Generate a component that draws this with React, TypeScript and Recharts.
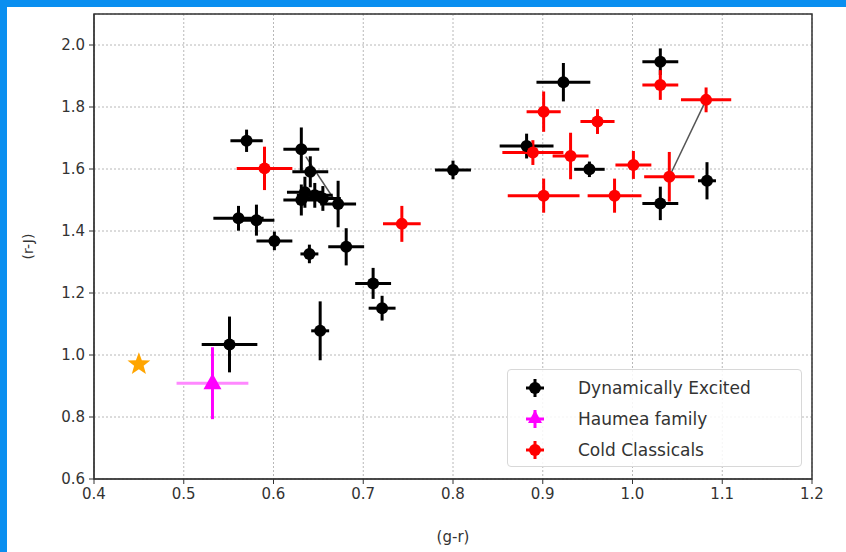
import {
  ErrorBar,
  Legend,
  ReferenceArea,
  ReferenceLine,
  Scatter,
  ScatterChart,
  CartesianGrid,
  XAxis,
  YAxis,
} from "recharts";

// Dynamically excited objects
const deX = [0.570, 0.631, 0.641, 0.635, 0.631, 0.646, 0.655, 0.672, 0.561, 0.581, 0.601, 0.640, 0.681, 0.711, 0.721, 0.652, 0.551, 0.800, 0.923, 1.031, 0.882, 0.952, 1.031, 1.083];
const deY = [1.691, 1.664, 1.591, 1.525, 1.500, 1.515, 1.505, 1.487, 1.441, 1.435, 1.368, 1.326, 1.349, 1.231, 1.151, 1.078, 1.034, 1.597, 1.880, 1.946, 1.674, 1.599, 1.489, 1.562];
const deXErr = [0.018, 0.02, 0.02, 0.02, 0.02, 0.02, 0.02, 0.02, 0.028, 0.02, 0.02, 0.01, 0.02, 0.02, 0.015, 0.01, 0.031, 0.02, 0.03, 0.02, 0.03, 0.017, 0.02, 0.01];
const deYErr = [0.036, 0.07, 0.05, 0.05, 0.05, 0.04, 0.04, 0.075, 0.04, 0.05, 0.03, 0.03, 0.06, 0.05, 0.04, 0.095, 0.09, 0.03, 0.062, 0.043, 0.04, 0.025, 0.054, 0.06];

// Cold classicals
const ccX = [0.590, 0.743, 0.901, 0.961, 1.031, 1.082, 0.889, 0.931, 1.001, 1.041, 0.901, 0.980];
const ccY = [1.602, 1.423, 1.785, 1.753, 1.871, 1.823, 1.653, 1.642, 1.613, 1.575, 1.514, 1.514];
const ccXErr = [0.031, 0.021, 0.019, 0.019, 0.02, 0.028, 0.034, 0.02, 0.02, 0.028, 0.04, 0.03];
const ccYErr = [0.07, 0.058, 0.065, 0.04, 0.048, 0.04, 0.04, 0.075, 0.045, 0.08, 0.055, 0.055];

// Haumea family
const hfX = [0.532];
const hfY = [0.909];
const hfXErr = [0.04];
const hfYErr = [0.116];

// lone reference object (star)
const starX = [0.45];
const starY = [0.97];

// pairs joined by a thin line
const links = [
  [{ x: 1.041, y: 1.575 }, { x: 1.082, y: 1.823 }],
  [{ x: 0.636, y: 1.64 }, { x: 0.668, y: 1.5 }],
];

const xTicks = [0.4, 0.5, 0.6, 0.7, 0.8, 0.9, 1.0, 1.1, 1.2];
const yTicks = [0.6, 0.8, 1.0, 1.2, 1.4, 1.6, 1.8, 2.0];

const rows = (xs: number[], ys: number[], ex?: number[], ey?: number[]) =>
  xs.map((x, i) => ({ x, y: ys[i], ex: ex ? ex[i] : 0, ey: ey ? ey[i] : 0 }));

const deData = rows(deX, deY, deXErr, deYErr);
const ccData = rows(ccX, ccY, ccXErr, ccYErr);
const hfData = rows(hfX, hfY, hfXErr, hfYErr);
const starData = rows(starX, starY);

const FONT = "'DejaVu Sans', sans-serif";
const tickStyle = { fontSize: 15, fill: "#333", fontFamily: FONT };

const dot = (color: string) => (p: any) => <circle cx={p.cx} cy={p.cy} r={6} fill={color} />;

const tri = (p: any) => (
  <polygon
    points={`${p.cx},${p.cy - 10} ${p.cx + 9},${p.cy + 6} ${p.cx - 9},${p.cy + 6}`}
    fill="#ff00ff"
  />
);

const star = (p: any) => {
  const pts: string[] = [];
  for (let i = 0; i < 10; i++) {
    const r = i % 2 === 0 ? 12 : 5;
    const a = -Math.PI / 2 + (i * Math.PI) / 5;
    pts.push(`${p.cx + r * Math.cos(a)},${p.cy + r * Math.sin(a)}`);
  }
  return <polygon points={pts.join(" ")} fill="#ffa500" />;
};

function LegendIcon({ color, kind }: { color: string; kind: "dot" | "tri" }) {
  return (
    <svg width={30} height={24}>
      <line x1={6} y1={12} x2={24} y2={12} stroke={color} strokeWidth={3} />
      <line x1={15} y1={3} x2={15} y2={21} stroke={color} strokeWidth={3} />
      {kind === "dot" ? (
        <circle cx={15} cy={12} r={6} fill={color} />
      ) : (
        <polygon points="15,3 22,16 8,16" fill={color} />
      )}
    </svg>
  );
}

const legendItems: { label: string; color: string; kind: "dot" | "tri" }[] = [
  { label: "Dynamically Excited", color: "#000", kind: "dot" },
  { label: "Haumea family", color: "#ff00ff", kind: "tri" },
  { label: "Cold Classicals", color: "#ff0000", kind: "dot" },
];

function LegendBox() {
  return (
    <div
      style={{
        width: 295,
        height: 98,
        border: "1px solid #d8d8d8",
        borderRadius: 4,
        background: "rgba(255,255,255,0.85)",
        boxSizing: "border-box",
        padding: "2px 0 0 12px",
        fontFamily: FONT,
        fontSize: 17,
        color: "#333",
      }}
    >
      {legendItems.map((it) => (
        <div key={it.label} style={{ display: "flex", alignItems: "center", height: 31 }}>
          <LegendIcon color={it.color} kind={it.kind} />
          <span style={{ marginLeft: 28 }}>{it.label}</span>
        </div>
      ))}
    </div>
  );
}

export default function App() {
  return (
    <div style={{ position: "absolute", left: 0, top: 0, width: 846, height: 552, background: "#fff", overflow: "hidden" }}>
      <div style={{ position: "absolute", left: 0, top: 0, width: 846, height: 7, background: "#0a8ff0" }} />
      <div style={{ position: "absolute", left: 0, top: 0, width: 7, height: 552, background: "#0a8ff0" }} />
      <ScatterChart width={846} height={552} margin={{ top: 14, right: 34, bottom: 0, left: 34 }}>
        <CartesianGrid stroke="#b8b8b8" strokeDasharray="2 2" />
        <XAxis
          type="number"
          dataKey="x"
          domain={[0.4, 1.2]}
          ticks={xTicks}
          allowDataOverflow
          tickFormatter={(v: number) => v.toFixed(1)}
          tick={tickStyle}
          tickSize={5}
          tickMargin={4}
          height={73}
          stroke="#333"
          label={{ value: "(g-r)", position: "insideBottom", offset: 10, style: { fontSize: 15, fill: "#333", fontFamily: FONT } }}
        />
        <YAxis
          type="number"
          dataKey="y"
          domain={[0.6, 2.1]}
          ticks={yTicks}
          allowDataOverflow
          tickFormatter={(v: number) => v.toFixed(1)}
          tick={tickStyle}
          tickSize={5}
          tickMargin={4}
          width={60}
          stroke="#333"
          label={{ value: "(r-J)", angle: -90, position: "insideLeft", offset: -6, style: { fontSize: 14, fill: "#333", fontFamily: FONT, textAnchor: "middle" } }}
        />
        {links.map((seg, i) => (
          <ReferenceLine key={i} segment={seg} stroke="#555" strokeWidth={1.5} />
        ))}
        <Scatter data={deData} shape={dot("#000")} isAnimationActive={false}>
          <ErrorBar dataKey="ex" direction="x" width={0} stroke="#000" strokeWidth={3} />
          <ErrorBar dataKey="ey" direction="y" width={0} stroke="#000" strokeWidth={3} />
        </Scatter>
        <Scatter data={hfData} shape={tri} isAnimationActive={false}>
          <ErrorBar dataKey="ex" direction="x" width={0} stroke="#ff88ff" strokeWidth={3} />
          <ErrorBar dataKey="ey" direction="y" width={0} stroke="#ff00ff" strokeWidth={3} />
        </Scatter>
        <Scatter data={ccData} shape={dot("#ff0000")} isAnimationActive={false}>
          <ErrorBar dataKey="ex" direction="x" width={0} stroke="#ff0000" strokeWidth={3} />
          <ErrorBar dataKey="ey" direction="y" width={0} stroke="#ff0000" strokeWidth={3} />
        </Scatter>
        <Scatter data={starData} shape={star} isAnimationActive={false} />
        <ReferenceArea x1={0.4} x2={1.2} y1={0.6} y2={2.1} fill="none" stroke="#333" strokeWidth={1.5} ifOverflow="visible" />
        <Legend
          layout="vertical"
          align="center"
          verticalAlign="middle"
          content={() => <LegendBox />}
          wrapperStyle={{ position: "absolute", left: 507, top: 369, width: 295, height: 98 }}
        />
      </ScatterChart>
    </div>
  );
}
